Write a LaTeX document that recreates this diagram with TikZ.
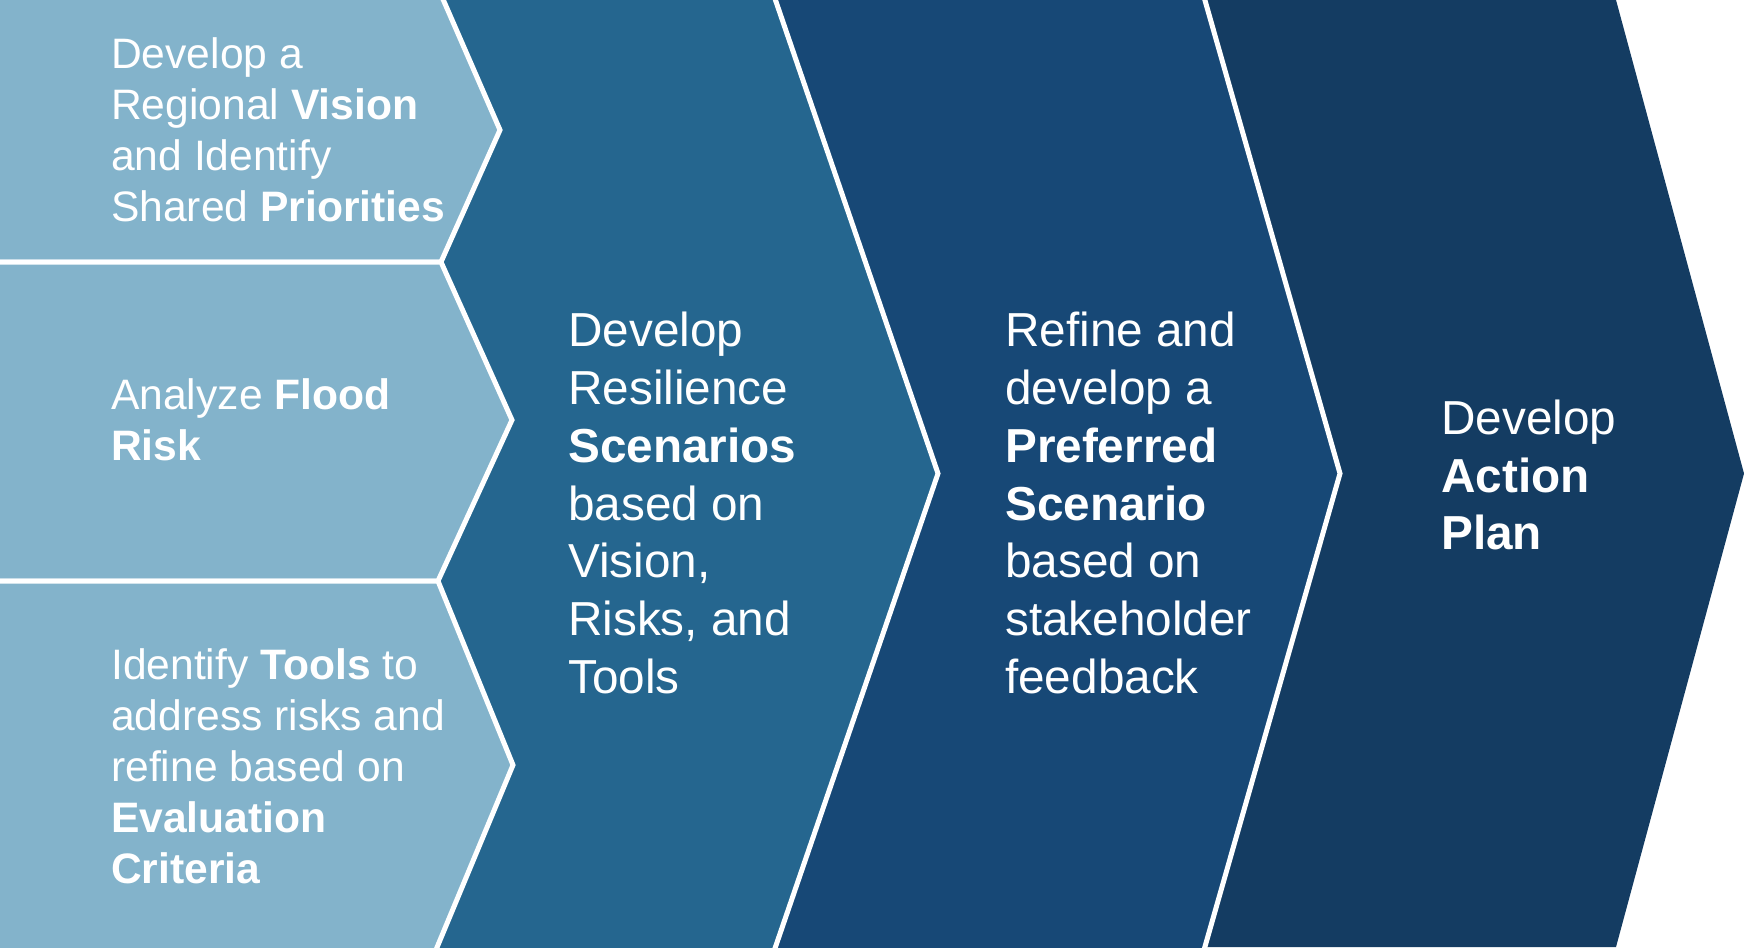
\documentclass[tikz,border=0pt]{standalone}
\usepackage{fontspec}
\setmainfont{Liberation Sans}
\definecolor{stepLight}{HTML}{83B3CB}
\definecolor{stepMid}{HTML}{25668F}
\definecolor{stepDeep}{HTML}{174876}
\definecolor{stepDark}{HTML}{143C62}
\begin{document}
\begin{tikzpicture}[x=1pt,y=-1pt,line join=miter,
	chev/.style={line width=5pt,draw=white},
	small/.style={text=white,inner sep=0pt,anchor=west,align=left,font=\fontsize{42.6}{51}\selectfont},
	large/.style={text=white,inner sep=0pt,anchor=west,align=left,font=\fontsize{47.7}{57.8}\selectfont}]
	\useasboundingbox (0,0) rectangle (1744,947);
	\clip (0,0) rectangle (1744,947);
	\fill [stepDark] (1000,0) -- (1616,0) -- (1744,473.5) -- (1616,947) -- (1000,947) -- cycle;
	\filldraw [chev,fill=stepDeep] (600,-10) -- (1202,-10) -- (1340,473.5) -- (1202,957) -- (600,957) -- cycle;
	\filldraw [chev,fill=stepMid] (-10,-10) -- (772,-10) -- (938,473.5) -- (772,957) -- (-10,957) -- cycle;
	\filldraw [chev,fill=stepLight] (-10,-10) -- (439,-10) -- (500,130) -- (441,262) -- (-10,262) -- cycle;
	\filldraw [chev,fill=stepLight] (-10,262) -- (441,262) -- (512,420) -- (438,581) -- (-10,581) -- cycle;
	\filldraw [chev,fill=stepLight] (-10,581) -- (438,581) -- (513,765) -- (433,957) -- (-10,957) -- cycle;
	\node [small] (vision) at (111,130) {Develop a\\Regional \textbf{Vision}\\and Identify\\Shared \textbf{Priorities}};
	\node [small] (risk) at (111,420) {Analyze \textbf{Flood}\\\textbf{Risk}};
	\node [small] (tools) at (111,766) {Identify \textbf{Tools} to\\address risks and\\refine based on\\\textbf{Evaluation}\\\textbf{Criteria}};
	\node [large] (scenarios) at (568,503) {Develop\\Resilience\\\textbf{Scenarios}\\based on\\Vision,\\Risks, and\\Tools};
	\node [large] (preferred) at (1005,503) {Refine and\\develop a\\\textbf{Preferred}\\\textbf{Scenario}\\based on\\stakeholder\\feedback};
	\node [large] (action) at (1441,475) {Develop\\\textbf{Action}\\\textbf{Plan}};
\end{tikzpicture}
\end{document}
